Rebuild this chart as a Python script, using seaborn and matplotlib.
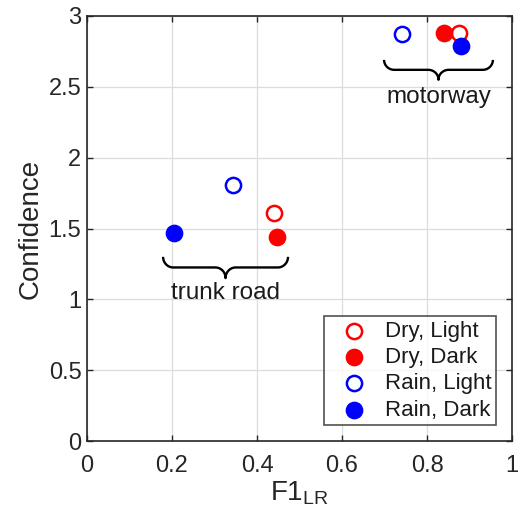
import numpy as np
import pandas as pd
import matplotlib
matplotlib.use("Agg")
import matplotlib.pyplot as plt
import seaborn as sns

# data
groups = ["Dry, Light", "Dry, Dark", "Rain, Light", "Rain, Dark"]
f1_trunk = [0.441, 0.446, 0.343, 0.204]
conf_trunk = [1.61, 1.44, 1.81, 1.47]
f1_motor = [0.876, 0.840, 0.742, 0.880]
conf_motor = [2.88, 2.88, 2.87, 2.79]
colors = ["#ff0000", "#ff0000", "#0000ff", "#0000ff"]
filled = [False, True, False, True]

# brace annotations: (x_left, x_right, y_top, height, label, label_y)
braces = [
    (0.179, 0.473, 1.30, 0.15, "trunk road", 1.045),
    (0.699, 0.955, 2.69, 0.14, "motorway", 2.43),
]

df = pd.DataFrame({
    "group": groups * 2,
    "F1": f1_trunk + f1_motor,
    "Confidence": conf_trunk + conf_motor,
})

sns.set_style("white")
plt.rcParams["font.family"] = ["Liberation Sans", "DejaVu Sans"]
plt.rcParams["font.size"] = 17

fig = plt.figure(figsize=(5.2, 5.22), dpi=100)
ax = fig.add_axes([87 / 520, 81 / 522, 425 / 520, 425 / 522])

draw_order = [1, 0, 2, 3]
handles = {}
for i in draw_order:
    g = groups[i]
    sub = df[df["group"] == g]
    sns.scatterplot(data=sub, x="F1", y="Confidence", ax=ax, s=120,
                    color=colors[i] if filled[i] else "white",
                    edgecolor=colors[i], linewidth=1.8, zorder=3 + i, legend=False)
    handles[g] = ax.scatter([], [], s=120, color=colors[i] if filled[i] else "white",
                            edgecolor=colors[i], linewidth=1.8)


def draw_brace(ax, x0, x1, ytop, h, n=30):
    rx = 0.024
    ry = h / 2
    xm = (x0 + x1) / 2
    t = np.linspace(0, np.pi / 2, n)
    # left end curling down
    a1x = x0 + rx - rx * np.cos(t)
    a1y = ytop - ry * np.sin(t)
    # into the tip
    a2x = xm - rx + rx * np.sin(t)
    a2y = ytop - ry - ry * (1 - np.cos(t))
    xs = np.concatenate([a1x, a2x])
    ys = np.concatenate([a1y, a2y])
    xs = np.concatenate([xs, (2 * xm - xs)[::-1]])
    ys = np.concatenate([ys, ys[::-1]])
    ax.plot(xs, ys, color="black", lw=1.7, solid_capstyle="butt", zorder=2)


for x0, x1, yt, h, lab, ly in braces:
    draw_brace(ax, x0, x1, yt, h)
    ax.text((x0 + x1) / 2, ly, lab, ha="center", va="center", fontsize=17.5,
            color="#1a1a1a")

ax.set_xlim(0, 1)
ax.set_ylim(0, 3)
ax.set_xticks(np.arange(0, 1.01, 0.2))
ax.set_xticklabels(["0", "0.2", "0.4", "0.6", "0.8", "1"])
ax.set_yticks(np.arange(0, 3.01, 0.5))
ax.set_yticklabels(["0", "0.5", "1", "1.5", "2", "2.5", "3"])
ax.grid(True, color="#dcdcdc", lw=0.9)
ax.set_axisbelow(True)
ax.tick_params(axis="x", pad=10)
ax.tick_params(axis="y", pad=4)
ax.tick_params(direction="in", length=4, width=1, top=True, right=True,
               bottom=True, left=True, colors="#262626", labelcolor="#262626",
               labelsize=17)
for sp in ax.spines.values():
    sp.set_color("#262626")
    sp.set_linewidth(1.2)
ax.set_xlabel("F1$_{\\mathregular{LR}}$", fontsize=20, color="#262626", labelpad=2)
ax.set_ylabel("Confidence", fontsize=20, color="#262626", labelpad=4)

leg = ax.legend([handles[g] for g in groups], groups, loc="lower right",
                frameon=True, fancybox=False, edgecolor="#262626", fontsize=16,
                borderpad=0.22, labelspacing=0.24, handletextpad=0.3,
                handlelength=2.2, borderaxespad=0.7)
leg.get_frame().set_linewidth(1.2)
for t in leg.get_texts():
    t.set_color("#1a1a1a")

fig.savefig("out.png", dpi=100)
